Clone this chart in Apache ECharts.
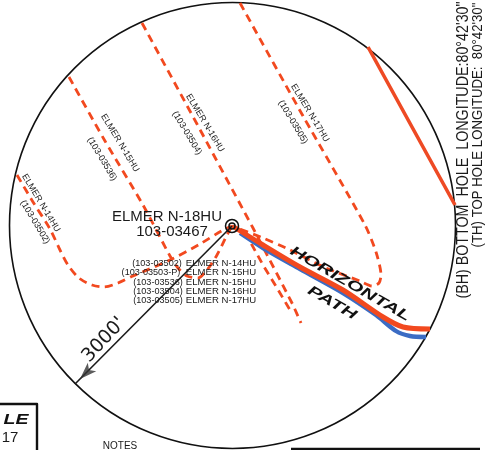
<!DOCTYPE html>
<html><head><meta charset="utf-8">
<style>html,body{margin:0;padding:0;background:#fff}#c{width:487px;height:450px}</style>
<script src="https://cdn.jsdelivr.net/npm/echarts@6/dist/echarts.min.js"></script>
</head><body><div id="c"></div>
<script>
// Map traced in image units (x right, y down)
const wellCenter = [232, 226];
const radiusRing = [232.5, 225.5, 223];
const wellN14 = [[17,175],[33,202],[50,229],[60,250],[68,265],[79,278],[92,285],[104,287],[118,283],[133,276],[170,260],[200,244],[223,230],[232,226]];
const wellN15 = [[69,77],[105,141],[143,205],[170,256],[178,268],[187,276],[198,278],[207,270],[217,255],[227,235],[232,226]];
const wellN16 = [[142,23],[197,124],[253,228],[276,272],[293,305],[301,323]];
const wellN15P = [[232,226],[247,236],[263,265],[277,288],[290,310]];
const wellN17 = [[240,3],[303,116],[365,225],[376,252],[381,275],[379,283],[372,286],[360,281],[326,268],[286,248],[263,238],[232,226]];
const unitLine = [[368,47],[412,127],[455,205]];
const pathBlue = [[240,233],[263,248],[300,269],[343,293],[376,315],[396,331],[410,336],[426,337]];
const pathRed = [[234,227],[263,245],[300,267],[343,290],[383,317],[403,327],[430,329]];
const radiusLine = [[232,226],[75,384]];
const arrowHead = [[80,379]];
const tableBox = [[0,404],[37,404],[37,450]];
const bottomRule = [[291,449],[480,449]];
const texts = [
 ['ELMER N-18HU',167,217,15,0,1],['103-03467',172,232,15,0,1],
 ['(103-03502)',157,263,9.6,0,.95],['(103-03503-P)',151,272,9.6,0,.95],['(103-03536)',158,282,9.6,0,.95],['(103-03504)',158,291,9.6,0,.95],['(103-03505)',158,300,9.6,0,.95],
 ['ELMER N-14HU',221,263,9.6,0,1],['ELMER N-15HU',221,272,9.6,0,1],['ELMER N-15HU',221,282,9.6,0,1],['ELMER N-16HU',221,291,9.6,0,1],['ELMER N-17HU',221,300,9.6,0,1],
 ['ELMER N-14HU',41,203,9,-59,1],['(103-03502)',35,222,9,-59,1],
 ['ELMER N-15HU',120,143,9,-59,1],['(103-03536)',102,159,9,-59,1],
 ['ELMER N-16HU',205,123,9,-59,1],['(103-03504)',187,133,9,-59,1],
 ['ELMER N-17HU',310,113,9,-59,1],['(103-03505)',293,122,9,-59,1],
 ["(BH) BOTTOM  HOLE  LONGITUDE:80°42'30\"",463,150,16.5,90,.865],["(TH) TOP HOLE LONGITUDE:  80°42'30\"",478,125,15,90,.88],
 ['NOTES',120,446,10,0,1],['17',10,438,15,0,1]
];
const boldTexts = [['HORIZONTAL',350,284,14,-30,1.5],['PATH',332,303,14,-30,1.5],['LE',16,420,15,0,1.3]];
const handText = [["3000'",104,340,19,47,1]];

const red='#f2491f', ff='"Liberation Sans",Arial,sans-serif';
const line=(data,o)=>Object.assign({type:'line',data,showSymbol:false,symbol:'none',silent:true,lineStyle:{color:o.color||red,width:o.width||2.8,type:o.dash?[8,5.5]:'solid',cap:'butt',join:'round'},smooth:o.smooth||false,z:o.z||2});
const ring=(vals,w,z)=>({type:'custom',silent:true,z:z||3,data:[vals],clip:false,encode:{x:0,y:1},renderItem:(p,api)=>{const c=api.coord([api.value(0),api.value(1)]);const r=api.size([api.value(2),0])[0];return{type:'circle',shape:{cx:c[0],cy:c[1],r},style:{fill:'transparent',stroke:'#111',lineWidth:w}}}});
const textSeries=(rows,extra)=>({type:'custom',silent:true,z:6,clip:false,data:rows.map(r=>({value:[r[1],r[2],r[3],r[4],r[5]],name:r[0]})),encode:{x:0,y:1},renderItem:(p,api)=>{const c=api.coord([api.value(0),api.value(1)]);const row=rows[p.dataIndex];return{type:'text',x:c[0],y:c[1],rotation:api.value(3)*Math.PI/180,scaleX:api.value(4),style:Object.assign({text:row[0],fontSize:api.value(2),fontFamily:ff,fill:'#1a1a1a',align:'center',verticalAlign:'middle'},extra)}}});

const chart=echarts.init(document.getElementById('c'),null,{renderer:'canvas'});
chart.setOption({animation:false,backgroundColor:'#fff',
 grid:{left:0,right:0,top:0,bottom:0},
 xAxis:{type:'value',min:0,max:487,show:false},
 yAxis:{type:'value',min:0,max:450,inverse:true,show:false},
 series:[
  ring(radiusRing,1.6,1),
  line(wellN14,{dash:1,smooth:.3}),
  line(wellN15,{dash:1,smooth:.25}),
  line(wellN16,{dash:1}),
  line(wellN15P,{dash:1}),
  line(wellN17,{dash:1,smooth:.25}),
  line(unitLine,{width:3.6,color:'#ee4a24'}),
  line(pathBlue,{width:4.4,color:'#3b6cc4',smooth:.3,z:3}),
  line(pathRed,{width:5,color:red,smooth:.3,z:4}),
  line(radiusLine,{width:1.6,color:'#1a1a1a',z:5}),
  {type:'scatter',data:arrowHead,symbol:'arrow',symbolSize:[9,17],symbolRotate:135,silent:true,itemStyle:{color:'#333'},z:5},
  line(tableBox,{width:2.4,color:'#111',z:5}),
  line(bottomRule,{width:2.4,color:'#111',z:5}),
  ring([wellCenter[0],wellCenter[1],6.5],1.5,6),
  ring([wellCenter[0],wellCenter[1],3],1.5,6),
  textSeries(texts,{}),
  textSeries(boldTexts,{fontWeight:'bold',fontStyle:'italic',fill:'#111'}),
  textSeries(handText,{fontFamily:'"DejaVu Sans",sans-serif',fill:'#1a1a1a'})
 ]});
</script></body></html>
